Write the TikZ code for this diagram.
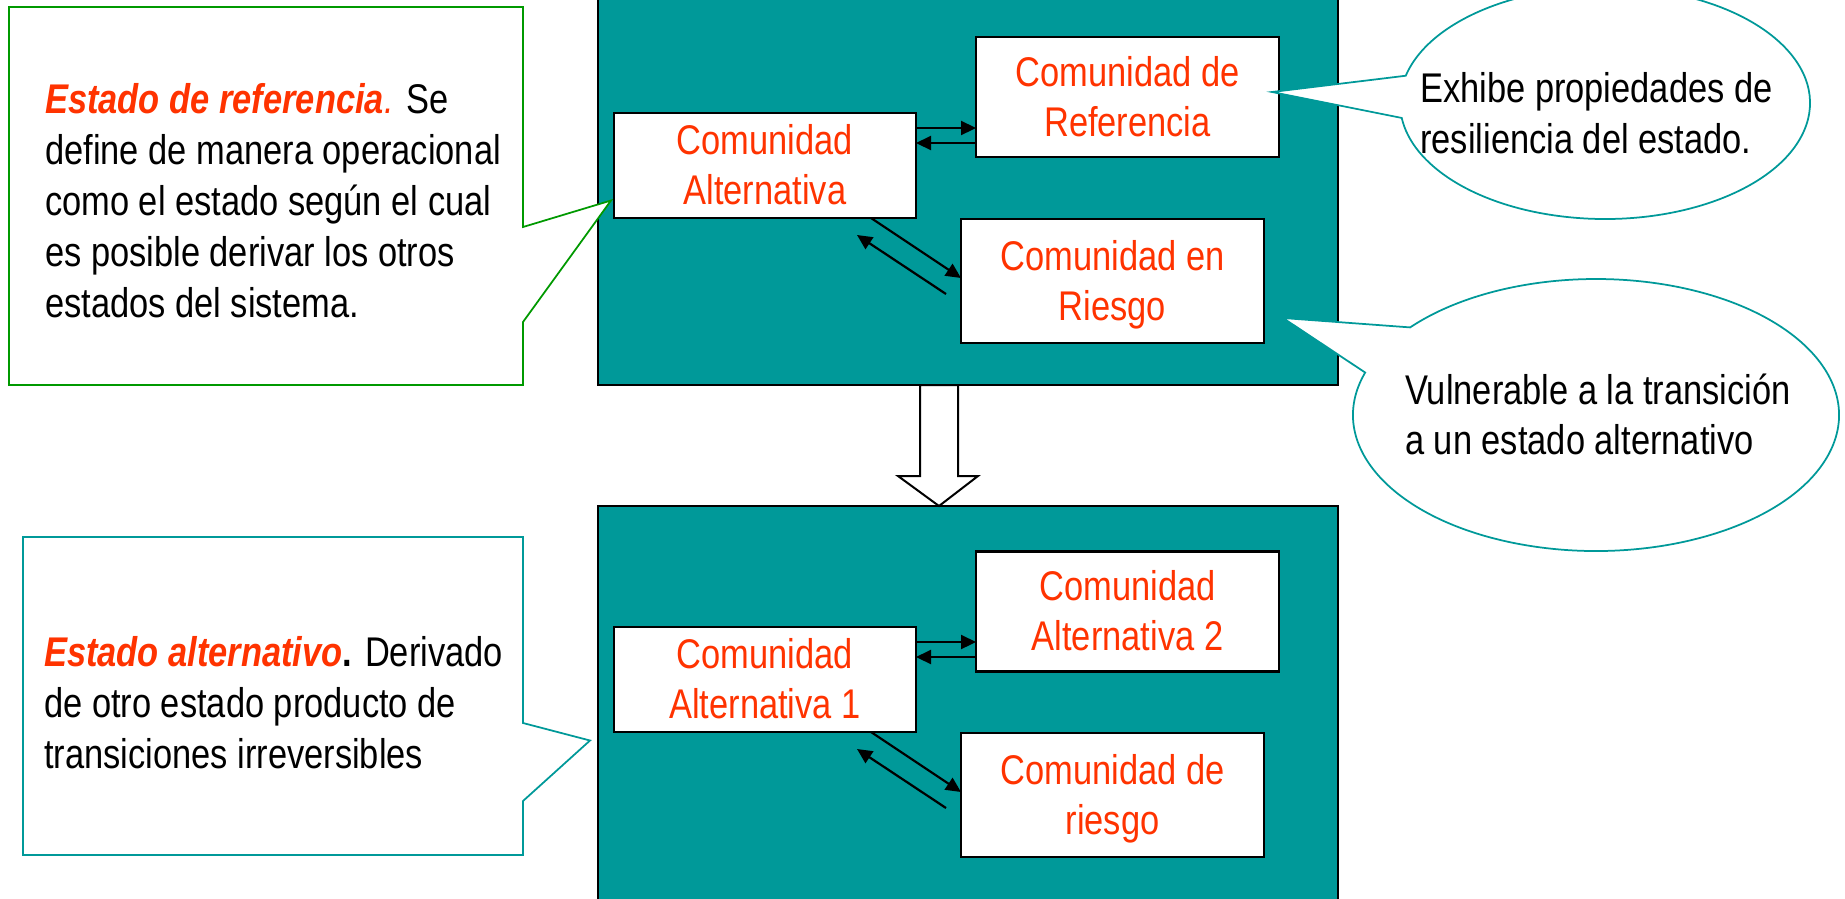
\documentclass[tikz,border=0pt]{standalone}
\usepackage{fontspec}
\newfontfamily\cfont{Liberation Sans}[FakeStretch=0.83]
\usetikzlibrary{arrows.meta}
\definecolor{tealfill}{HTML}{009999}
\definecolor{redtxt}{HTML}{FF3300}
\definecolor{greenline}{HTML}{009900}
\definecolor{tealline}{HTML}{009999}
\begin{document}
\begin{tikzpicture}[x=1pt,y=-1pt,
  panel/.style={draw=black, line width=2pt, fill=tealfill, inner sep=0pt, outer sep=0pt},
  cbox/.style={draw=black, line width=2.2pt, fill=white, inner sep=0pt, outer sep=0pt},
  ln/.style={inner sep=0pt, anchor=base west, font=\cfont\fontsize{41.5}{50}\selectfont},
  rl/.style={inner sep=0pt, anchor=base, text=redtxt, font=\cfont\fontsize{41.5}{50}\selectfont},
  arr/.style={line width=2.2pt, -{Triangle[length=15pt,width=14pt]}},
  callg/.style={draw=greenline, line width=1.75pt, fill=white, line join=miter},
  callt/.style={draw=tealline, line width=1.75pt, fill=white, line join=miter},
  hollow/.style={draw=black, line width=2pt, fill=white, line join=miter}
]
\useasboundingbox (0,0) rectangle (1845,898);
\clip (0,0) rectangle (1845,898);
\fill[white] (0,0) rectangle (1845,898);

% panels
\node[panel, minimum width=740pt, minimum height=400pt] (top) at (968,185) {};
\node[panel, minimum width=740pt, minimum height=400pt] (bot) at (968,706) {};

% inner boxes (top)
\node[cbox, minimum width=302pt, minimum height=105pt] (ca) at (765,165.5) {};
\node[cbox, minimum width=303pt, minimum height=120pt] (ref) at (1127.5,97) {};
\node[cbox, minimum width=303pt, minimum height=124pt] (ris) at (1112.5,281) {};
% inner boxes (bottom)
\node[cbox, minimum width=302pt, minimum height=105pt] (ca1) at (765,679.5) {};
\node[cbox, minimum width=303pt, minimum height=120pt] (alt) at (1127.5,611.5) {};
\node[cbox, minimum width=303pt, minimum height=124pt] (ris2) at (1112.5,795) {};

% red texts
\node[rl] (cat1) at ([yshift=11pt]ca.center) {Comunidad};
\node[rl] (cat2) at ([yshift=-39pt]ca.center) {Alternativa};
\node[rl] (reft1) at ([yshift=11pt]ref.center) {Comunidad de};
\node[rl] (reft2) at ([yshift=-39pt]ref.center) {Referencia};
\node[rl] (rist1) at ([yshift=11pt]ris.center) {Comunidad en};
\node[rl] (rist2) at ([yshift=-39pt]ris.center) {Riesgo};
\node[rl] (ca1t1) at ([yshift=11pt]ca1.center) {Comunidad};
\node[rl] (ca1t2) at ([yshift=-39pt]ca1.center) {Alternativa 1};
\node[rl] (altt1) at ([yshift=11pt]alt.center) {Comunidad};
\node[rl] (altt2) at ([yshift=-39pt]alt.center) {Alternativa 2};
\node[rl] (ris2t1) at ([yshift=11pt]ris2.center) {Comunidad de};
\node[rl] (ris2t2) at ([yshift=-39pt]ris2.center) {riesgo};

% arrows top
\draw[arr] ([yshift=37.5pt]ca.east) -- ([yshift=37.5pt]ca.east -| ref.west);
\draw[arr] ([yshift=22.5pt]ca.east -| ref.west) -- ([yshift=22.5pt]ca.east);
\draw[arr] ([xshift=106pt]ca.south) -- ([yshift=3pt]ris.west);
\draw[arr] ([xshift=-15pt,yshift=-13pt]ris.west) -- ([xshift=92pt,yshift=-17pt]ca.south);
% arrows bottom
\draw[arr] ([yshift=37.5pt]ca1.east) -- ([yshift=37.5pt]ca1.east -| alt.west);
\draw[arr] ([yshift=22.5pt]ca1.east -| alt.west) -- ([yshift=22.5pt]ca1.east);
\draw[arr] ([xshift=106pt]ca1.south) -- ([yshift=3pt]ris2.west);
\draw[arr] ([xshift=-15pt,yshift=-13pt]ris2.west) -- ([xshift=92pt,yshift=-17pt]ca1.south);

% hollow block arrow between panels
\coordinate (hx) at (939,0);
\coordinate (hs) at (top.south -| hx);
\coordinate (ht) at (bot.north -| hx);
\draw[hollow] ([xshift=-19pt]hs) -- ++(0,91) -- ++(-22,0) -- (ht) -- ++(39,-30) -- ++(-20,0) -- ++(0,-91) -- cycle;

% ellipse callouts
\coordinate (e1) at (1605,103);
\coordinate (e2) at (1596,415);
\coordinate (tip1) at ([xshift=-7pt,yshift=5pt]ref.east);
\coordinate (tip2) at ([xshift=19pt,yshift=-37pt]ris.east);
\draw[callt] (e1) ++(166.4:205pt and 116pt) arc[start angle=166.4, end angle=-172.6, x radius=205pt, y radius=116pt] -- (tip1) -- cycle;
\draw[callt] (e2) ++(161.8:243pt and 136pt) arc[start angle=161.8, end angle=499.9, x radius=243pt, y radius=136pt] -- (tip2) -- cycle;

% rectangle callouts
\coordinate (tipg) at ([xshift=-3pt,yshift=-35pt]ca.west);
\coordinate (tipt) at ([xshift=-24pt,yshift=-61pt]ca1.west);
\draw[callg] (9,7) -- (523,7) -- (523,227) -- (tipg) -- (523,322) -- (523,385) -- (9,385) -- cycle;
\draw[callt] (23,537) -- (523,537) -- (523,723) -- (tipt) -- (523,801) -- (523,855) -- (23,855) -- cycle;

% black texts
\node[ln] (l1) at (45,113) {\textcolor{redtxt}{\textbf{\textit{Estado de referencia}}\textit{.}} Se};
\node[ln] (l2) at (45,164) {define de manera operacional};
\node[ln] (l3) at (45,215) {como el estado según el cual};
\node[ln] (l4) at (45,266) {es posible derivar los otros};
\node[ln] (l5) at (45,317) {estados del sistema.};

\node[ln] (m1) at (44,666) {\textcolor{redtxt}{\textbf{\textit{Estado alternativo}}}\textbf{.} Derivado};
\node[ln] (m2) at (44,717) {de otro estado producto de};
\node[ln] (m3) at (44,768) {transiciones irreversibles};

\node[ln] (x1) at (1420,102) {Exhibe propiedades de};
\node[ln] (x2) at (1420,153) {resiliencia del estado.};
\node[ln] (v1) at (1405,404) {Vulnerable a la transición};
\node[ln] (v2) at (1405,454) {a un estado alternativo};
\end{tikzpicture}
\end{document}
